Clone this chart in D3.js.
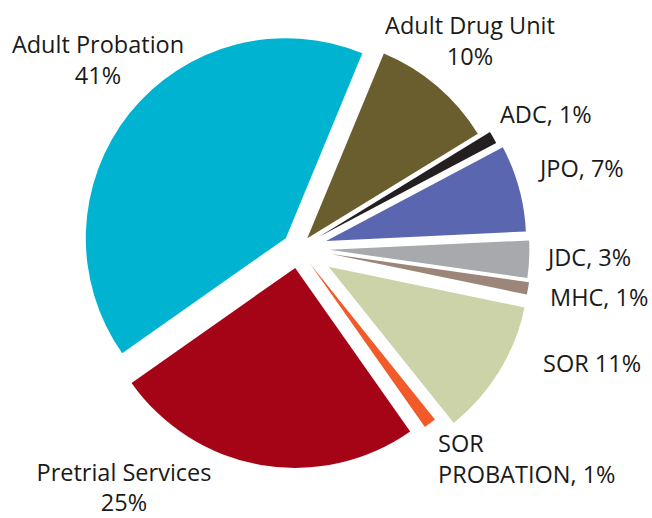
<!DOCTYPE html>
<html>
<head>
<meta charset="utf-8">
<script src="https://cdn.jsdelivr.net/npm/d3@7"></script>
<style>
    body { margin: 0; background: #fff; }
    svg text { font-family: "Open Sans", "Noto Sans", sans-serif; font-size: 23.5px; fill: #1a1a1a; }
</style>
</head>
<body>
<script>
//slices in clockwise order, starting just right of 12 o'clock
var categories = ["Adult Drug Unit", "ADC", "JPO", "JDC", "MHC", "SOR", "SOR PROBATION", "Pretrial Services", "Adult Probation"];
var shares = [10, 1, 7, 3, 1, 11, 1, 25, 41];
//label text pieces: name as printed and what goes between name and percent
var labelNames = ["Adult Drug Unit", "ADC", "JPO", "JDC", "MHC", "SOR", "SOR\nPROBATION", "Pretrial Services", "Adult Probation"];
var labelSeps = ["\n", ", ", ", ", ", ", ", ", " ", ", ", "\n", "\n"];

window.onload = drawPie();

function drawPie() {
    var width = 652,
        height = 518;

    var colors = ["#6b5e2e", "#231f20", "#5a67b0", "#a7a9ac", "#9c8679", "#cdd3a9", "#f15a29", "#a50417", "#00b4d1"];
    //how far each slice is pulled out from the centre
    var explode = [13.4, 24, 28.5, 30.8, 32.9, 35.3, 18.8, 19.8, 16.4];
    //label anchor points (x, first baseline, text-anchor)
    var labelPos = [
        [470, 33.5, "middle"],
        [500, 122.5, "start"],
        [540, 176.5, "start"],
        [548, 266, "start"],
        [550, 306, "start"],
        [543, 372, "start"],
        [438, 452, "start"],
        [124, 480.5, "middle"],
        [98, 52.5, "middle"]
    ];
    var lineHeight = 31;

    var cx = 298.6, cy = 248.4, radius = 200;
    var start = 22.5 * Math.PI / 180;

    var svg = d3.select("body")
        .append("svg")
        .attr("width", width)
        .attr("height", height);

    var pie = d3.pie()
        .sort(null)
        .value(function(d) { return d; })
        .startAngle(start)
        .endAngle(start + 2 * Math.PI);

    var arc = d3.arc()
        .innerRadius(0)
        .outerRadius(radius);

    var slices = pie(shares);

    svg.append("g")
        .attr("transform", "translate(" + cx + "," + cy + ")")
        .selectAll("path")
        .data(slices)
        .enter()
        .append("path")
        .attr("d", arc)
        .attr("fill", function(d, i) { return colors[i]; })
        .attr("transform", function(d, i) {
            var mid = (d.startAngle + d.endAngle) / 2;
            return "translate(" + (Math.sin(mid) * explode[i]) + "," + (-Math.cos(mid) * explode[i]) + ")";
        });

    //labels
    var labels = svg.append("g");
    categories.forEach(function(name, i) {
        var lines = (labelNames[i] + labelSeps[i] + shares[i] + "%").split("\n");
        var t = labels.append("text")
            .attr("text-anchor", labelPos[i][2]);
        lines.forEach(function(line, j) {
            t.append("tspan")
                .attr("x", labelPos[i][0])
                .attr("y", labelPos[i][1] + j * (lineHeight - (i == 7 ? 1 : 0)))
                .text(line);
        });
    });
}
</script>
</body>
</html>
